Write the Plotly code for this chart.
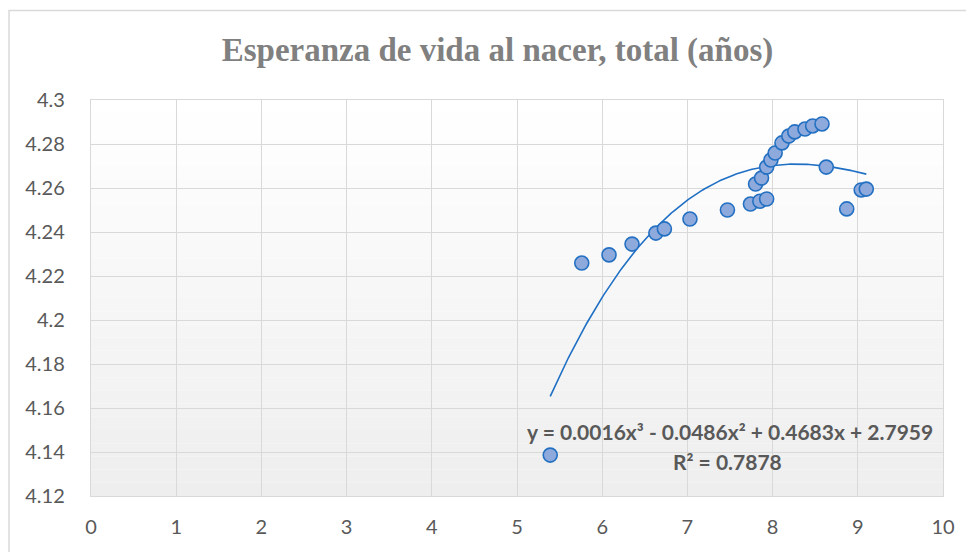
"""Esperanza de vida al nacer - dispersión con tendencia polinómica (Plotly)"""

import numpy as np
import plotly.graph_objects as go

# datos
x_vals = [5.39, 5.76, 6.08, 6.35, 6.63, 6.73, 7.03, 7.47, 7.74, 7.85, 7.93,
          7.80, 7.87, 7.93, 7.98, 8.03, 8.11, 8.19, 8.26, 8.38, 8.47, 8.58,
          8.63, 8.87, 9.04, 9.10]
y_vals = [4.1386, 4.2259, 4.2296, 4.2345, 4.2395, 4.2414, 4.2459, 4.2500,
          4.2527, 4.2540, 4.2550, 4.2618, 4.2645, 4.2695, 4.2727, 4.2759,
          4.2805, 4.2836, 4.2855, 4.2868, 4.2882, 4.2891, 4.2695, 4.2505,
          4.2591, 4.2595]

x_ticks = [0, 1, 2, 3, 4, 5, 6, 7, 8, 9, 10]
y_ticks = [4.12, 4.14, 4.16, 4.18, 4.2, 4.22, 4.24, 4.26, 4.28, 4.3]
y_tick_text = ['4.12', '4.14', '4.16', '4.18', '4.2', '4.22', '4.24', '4.26', '4.28', '4.3']

titulo = 'Esperanza de vida al nacer, total (años)'
ecuacion = 'y = 0.0016x³ - 0.0486x² + 0.4683x + 2.7959'
r2 = 'R² = 0.7878'

# tendencia polinómica de grado 3 (como Excel)
coef = np.polyfit(x_vals, y_vals, 3)
xs = np.linspace(min(x_vals), max(x_vals), 200)
ys = np.polyval(coef, xs)

GRIS = '#595959'

fig = go.Figure()
fig.add_trace(go.Scatter(
    x=xs, y=ys, mode='lines',
    line=dict(color='#1F6FC4', width=1.6),
    hoverinfo='skip', showlegend=False
))
fig.add_trace(go.Scatter(
    x=x_vals, y=y_vals, mode='markers',
    marker=dict(size=14, color='#8EAADC', line=dict(color='#2370C2', width=1.6)),
    showlegend=False
))

# degradado del área de trazado (blanco -> gris claro)
n = 30
for i in range(n):
    g = int(round(255 - (255 - 238) * (i / (n - 1))))
    fig.add_shape(
        type='rect', xref='x domain', yref='y domain',
        x0=0, x1=1, y0=1 - (i + 1) / n, y1=1 - i / n,
        fillcolor=f'rgb({g},{g},{g})', line=dict(width=0), layer='below'
    )

# marco exterior del gráfico
fig.add_shape(
    type='rect', xref='paper', yref='paper',
    x0=-0.0962, x1=1.06, y0=-0.25, y1=1.2257,
    line=dict(color='#D9D9D9', width=1.5), fillcolor='rgba(0,0,0,0)'
)

# etiqueta de la línea de tendencia (dos líneas)
fuente_eq = dict(family='Lato, sans-serif', size=21, color=GRIS)
fig.add_annotation(
    x=7.50, y=4.1495, xref='x', yref='y', text=f'<b>{ecuacion}</b>', showarrow=False,
    font=fuente_eq, xanchor='center', yanchor='middle'
)
fig.add_annotation(
    x=7.47, y=4.1359, xref='x', yref='y', text=f'<b>{r2}</b>', showarrow=False,
    font=fuente_eq, xanchor='center', yanchor='middle'
)

# el <body> de la página añade 8 px de margen: se compensa en width/height/margin
fig.update_layout(
    width=966, height=544,
    margin=dict(l=83, r=31, t=92, b=56),
    paper_bgcolor='white', plot_bgcolor='white',
    title=dict(
        text=f'<b>{titulo}</b>', x=0.5067, xanchor='center', y=0.9246, yanchor='middle',
        font=dict(family='Liberation Serif, Times New Roman, serif', size=33, color='#808080')
    ),
    font=dict(family='Lato, Open Sans, sans-serif', size=20, color=GRIS),
    xaxis=dict(
        range=[0, 10], tickvals=x_ticks, showgrid=True, gridcolor='#D9D9D9', gridwidth=1.4,
        zeroline=False, showline=True, linecolor='#D9D9D9', linewidth=1.4, mirror=True,
        ticks='', ticklabelstandoff=13, fixedrange=True
    ),
    yaxis=dict(
        range=[4.12, 4.3], tickvals=y_ticks, ticktext=y_tick_text, showgrid=True,
        gridcolor='#D9D9D9', gridwidth=1.4, zeroline=False, showline=True,
        linecolor='#D9D9D9', linewidth=1.4, mirror=True,
        ticks='', ticklabelstandoff=21, fixedrange=True
    ),
)

fig.write_html('out.html')
